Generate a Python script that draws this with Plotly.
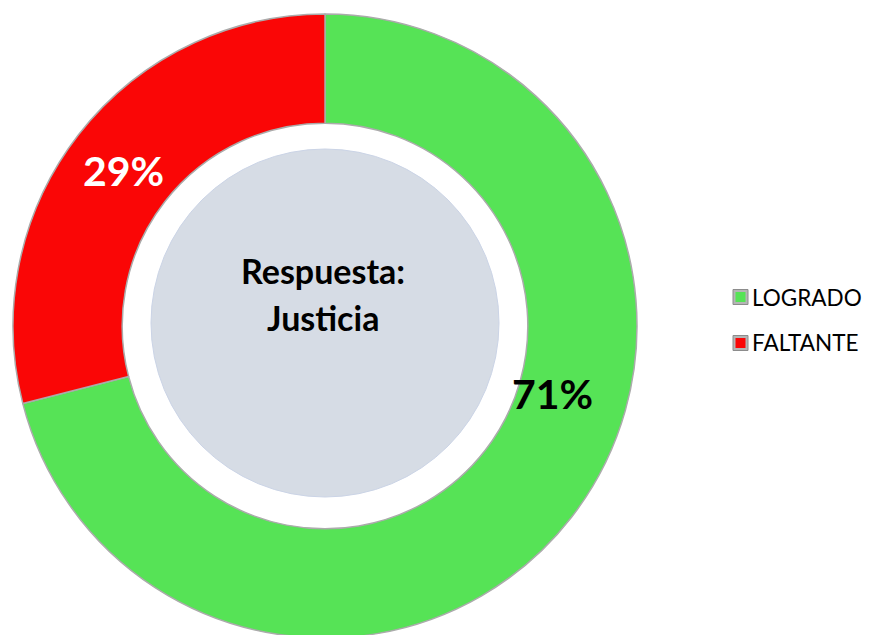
import plotly.graph_objects as go

# Data
labels = ["LOGRADO", "FALTANTE"]
values = [71, 29]
colors = ["#56E356", "#FA0606"]
title_lines = ["Respuesta:", "Justicia"]

W, H = 870, 635
OFF = 8  # the page body adds an 8px margin around the figure


def fx(x):
    # screen pixel -> paper x
    return (x - OFF) / W


def fy(y):
    # screen pixel -> paper y
    return 1 - (y - OFF) / H


fig = go.Figure()

# donut: centre (325, 326) on screen, outer radius 312
fig.add_trace(go.Pie(
    labels=labels,
    values=values,
    hole=0.65,
    sort=False,
    direction="clockwise",
    rotation=0,
    marker=dict(colors=colors, line=dict(color="#ABABAB", width=1.5)),
    textinfo="none",
    domain=dict(x=[fx(13), fx(637)], y=[fy(638), fy(14)]),
    showlegend=False,
))

# light grey disc inside the hole
fig.add_shape(
    type="circle", xref="paper", yref="paper", layer="below",
    x0=fx(151), x1=fx(499), y0=fy(497), y1=fy(149),
    fillcolor="#D6DCE5", line=dict(color="#CBD4E6", width=1),
)

# percentage labels
pct = [f"{v}%" for v in values]
fig.add_annotation(x=fx(552), y=fy(393), xref="paper", yref="paper",
                   xanchor="center", yanchor="middle",
                   text=f"<b>{pct[0]}</b>", showarrow=False,
                   font=dict(family="Lato", size=41, color="black"))
fig.add_annotation(x=fx(123), y=fy(170), xref="paper", yref="paper",
                   xanchor="center", yanchor="middle",
                   text=f"<b>{pct[1]}</b>", showarrow=False,
                   font=dict(family="Lato", size=41, color="white"))

# centre title, one annotation per line
for line, ly in zip(title_lines, [270, 317]):
    fig.add_annotation(x=fx(323), y=fy(ly), xref="paper", yref="paper",
                       xanchor="center", yanchor="middle",
                       text=f"<b>{line}</b>", showarrow=False,
                       font=dict(family="Lato", size=34, color="black"))

# legend drawn by hand so the row spacing matches
for i, (lab, col) in enumerate(zip(labels, colors)):
    cy = 297 + i * 46
    fig.add_shape(type="rect", xref="paper", yref="paper",
                  x0=fx(733), x1=fx(748), y0=fy(cy + 7.5), y1=fy(cy - 7.5),
                  fillcolor="#B5B5B5", line=dict(color="#8C8C8C", width=1))
    fig.add_shape(type="rect", xref="paper", yref="paper",
                  x0=fx(735.5), x1=fx(745.5), y0=fy(cy + 5), y1=fy(cy - 5),
                  fillcolor=col, line=dict(width=0))
    fig.add_annotation(x=fx(750), y=fy(cy), xref="paper", yref="paper",
                       xanchor="left", yanchor="middle",
                       text=lab, showarrow=False,
                       font=dict(family="Lato", size=22.5, color="black"))

fig.update_layout(
    width=W,
    height=H,
    margin=dict(l=0, r=0, t=0, b=0),
    paper_bgcolor="white",
    plot_bgcolor="white",
    font=dict(family="Lato"),
    showlegend=False,
)

fig.write_html("out.html")
